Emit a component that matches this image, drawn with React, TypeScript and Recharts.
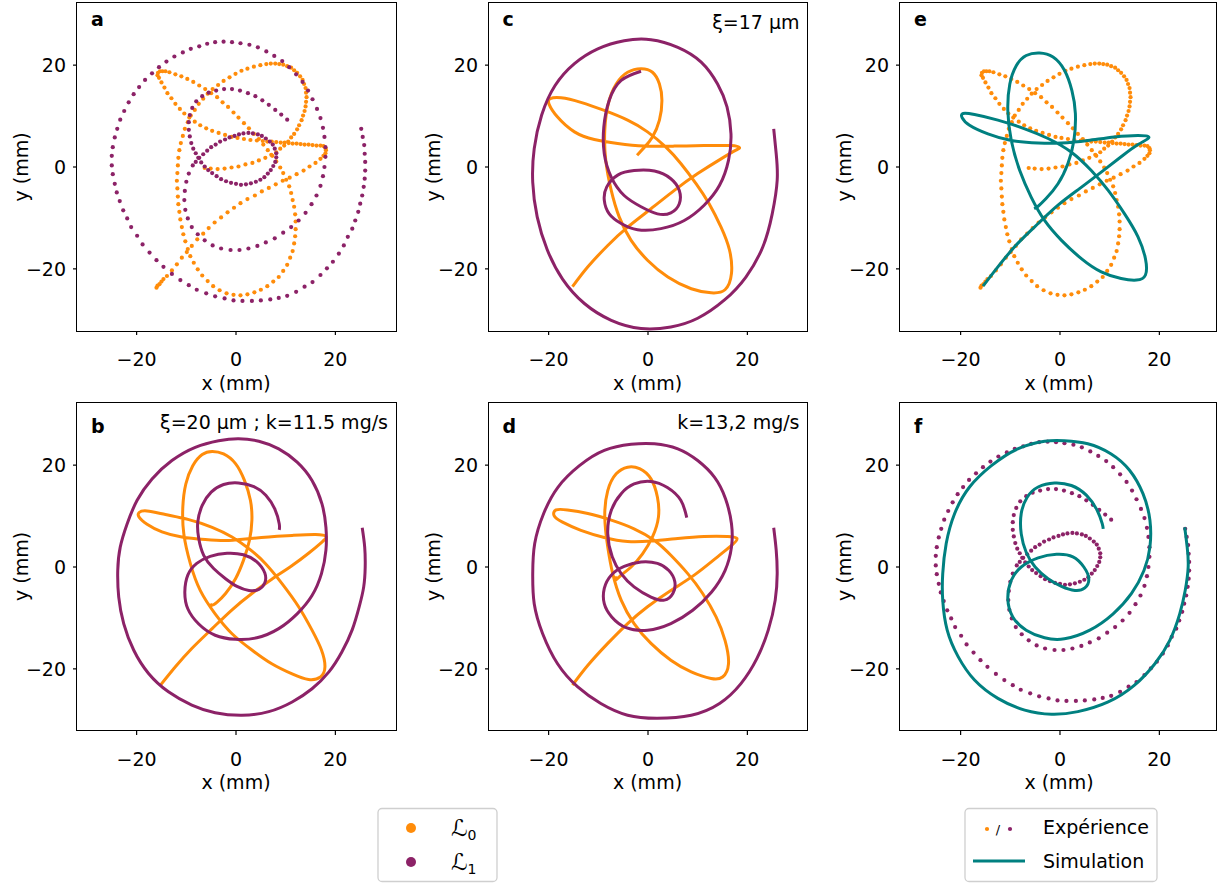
import React from 'react';
import { ScatterChart, Scatter, XAxis, YAxis } from 'recharts';

const FONT = '"DejaVu Sans", "Liberation Sans", sans-serif';
const ORANGE = '#ff8c0a';
const PURPLE = '#8c2267';
const TEAL = '#008080';

// experimental trajectories (dots), shared by a/e and a/f
const orangeExp = [
  [-16.0, -23.7], [-15.8, -23.3], [-15.4, -23.0], [-15.0, -22.5], [-14.6, -22.0],
  [-13.9, -21.4], [-12.9, -20.3], [-11.9, -19.1], [-10.9, -17.8], [-9.9, -16.7], [-8.9, -15.5], [-7.8, -14.2],
  [-6.6, -13.1], [-5.5, -12.0], [-4.3, -10.9], [-3.0, -9.9], [-1.7, -8.9], [-0.4, -8.0], [0.9, -7.1], [2.3, -6.3],
  [3.8, -5.6], [5.2, -4.8], [6.6, -4.1], [8.0, -3.4], [9.4, -2.7], [10.8, -2.1], [12.2, -1.4], [13.6, -0.7],
  [14.8, 0.1], [16.0, 0.8], [17.0, 1.6], [17.6, 2.2], [18.0, 2.7], [18.1, 3.3], [18.0, 3.7], [17.6, 4.1], [17.0, 4.2],
  [16.2, 4.2], [15.4, 4.3], [14.6, 4.4], [13.8, 4.4], [13.0, 4.5], [12.2, 4.6], [11.4, 4.6], [10.6, 4.7], [9.8, 4.8],
  [9.0, 4.8], [8.1, 4.9], [7.2, 5.0], [6.3, 5.0], [5.4, 5.1], [4.2, 5.2], [2.9, 5.3], [1.6, 5.5], [0.3, 5.7],
  [-0.9, 5.9], [-2.2, 6.3], [-3.5, 6.7], [-4.8, 7.1], [-6.0, 7.6], [-7.2, 8.2], [-8.3, 8.9], [-9.4, 9.7],
  [-10.4, 10.5], [-11.3, 11.4], [-12.2, 12.4], [-13.0, 13.5], [-13.8, 14.5], [-14.4, 15.6], [-15.0, 16.6],
  [-15.5, 17.5], [-15.8, 18.0], [-15.7, 18.5], [-15.3, 18.8], [-14.8, 18.8], [-14.2, 18.8],
  [-13.4, 18.6], [-12.2, 18.2], [-11.0, 17.8], [-9.8, 17.3], [-8.6, 16.7], [-7.4, 16.0], [-6.2, 15.3], [-5.0, 14.5],
  [-3.8, 13.7], [-2.7, 12.7], [-1.6, 11.8], [-0.5, 10.7], [0.5, 9.7], [1.6, 8.6], [2.6, 7.6], [3.6, 6.5], [4.6, 5.5],
  [5.5, 4.4], [6.4, 3.3], [7.3, 2.2], [8.1, 1.1], [8.9, -0.1], [9.5, -1.2], [10.1, -2.5], [10.7, -3.8], [11.1, -5.1],
  [11.4, -6.5], [11.7, -7.8], [11.9, -9.3], [12.0, -10.7], [12.0, -12.2], [11.9, -13.6], [11.7, -15.0], [11.4, -16.5],
  [10.9, -17.8], [10.3, -19.2], [9.5, -20.4], [8.6, -21.6], [7.5, -22.5], [6.3, -23.4], [5.0, -24.1], [3.7, -24.6],
  [2.3, -25.0], [0.9, -25.2], [-0.5, -25.1], [-1.9, -24.8], [-3.3, -24.2], [-4.6, -23.4], [-5.7, -22.4], [-6.8, -21.3],
  [-7.7, -20.1], [-8.5, -18.8], [-9.2, -17.5], [-9.7, -16.1], [-10.2, -14.6], [-10.6, -13.2], [-10.9, -11.8],
  [-11.2, -10.3], [-11.4, -8.8], [-11.6, -7.3], [-11.7, -5.8], [-11.8, -4.2], [-11.9, -2.7], [-11.8, -1.2],
  [-11.7, 0.3], [-11.6, 1.8], [-11.4, 3.3], [-11.1, 4.7], [-10.7, 6.1], [-10.3, 7.5], [-9.7, 8.8], [-9.1, 10.1],
  [-8.3, 11.2], [-7.5, 12.4], [-6.6, 13.4], [-5.7, 14.4], [-4.7, 15.3], [-3.6, 16.1], [-2.5, 16.9], [-1.3, 17.6],
  [-0.1, 18.3], [1.1, 18.9], [2.3, 19.3], [3.6, 19.7], [4.9, 20.0], [6.1, 20.2],
  [7.0, 20.3], [7.9, 20.3], [8.7, 20.2], [9.5, 20.1], [10.3, 19.8], [11.1, 19.5], [11.7, 19.0], [12.3, 18.5],
  [12.9, 17.8], [13.4, 17.1], [13.7, 16.3], [14.0, 15.5], [14.1, 14.6], [14.2, 13.7], [14.1, 12.8], [14.0, 11.9],
  [13.8, 11.0], [13.5, 10.1], [13.2, 9.2], [12.7, 8.2], [12.3, 7.4], [11.7, 6.5], [11.1, 5.8], [10.5, 5.0],
  [9.7, 4.2], [8.9, 3.6], [8.1, 2.9], [7.1, 2.4],
  [5.9, 1.8], [4.6, 1.3], [3.3, 0.8], [1.9, 0.5], [0.5, 0.1], [-0.9, -0.1], [-2.3, -0.3], [-3.7, -0.4],
  [-5.1, -0.3], [-6.3, -0.2],
];

const purpleExp = [
  [25.2, 7.5], [25.5, 5.9], [25.8, 4.3], [25.9, 2.6], [26.0, 1.0], [26.0, -0.7], [25.9, -2.3], [25.7, -3.9],
  [25.4, -5.6], [25.0, -7.2], [24.6, -8.8], [24.0, -10.5], [23.4, -12.1], [22.5, -13.7], [21.7, -15.4],
  [20.7, -17.0], [19.5, -18.6], [18.3, -19.9], [17.0, -21.2], [15.4, -22.6], [13.8, -23.5], [12.1, -24.5],
  [10.3, -25.3], [8.6, -25.7], [6.9, -26.0], [5.0, -26.2], [3.2, -26.3], [1.3, -26.3], [-0.5, -26.2],
  [-2.3, -25.8], [-4.2, -25.4], [-6.0, -24.8], [-7.9, -24.1], [-9.5, -23.2], [-11.2, -22.2], [-12.9, -21.0],
  [-14.6, -19.6], [-16.0, -18.3], [-17.4, -16.8], [-18.8, -15.2], [-19.9, -13.5], [-21.1, -11.8], [-21.9, -10.1],
  [-22.7, -8.5], [-23.4, -6.7], [-24.0, -5.0], [-24.4, -3.3], [-24.8, -1.4], [-25.0, 0.3], [-25.0, 2.2],
  [-24.8, 3.9], [-24.4, 5.8], [-23.9, 7.5], [-23.3, 9.3], [-22.5, 11.0], [-21.6, 12.7], [-20.6, 14.3],
  [-19.5, 15.7], [-18.3, 17.1], [-16.9, 18.4], [-15.5, 19.6], [-14.0, 20.7], [-12.4, 21.7], [-10.7, 22.5],
  [-9.1, 23.2], [-7.4, 23.7], [-5.8, 24.2], [-4.2, 24.5], [-2.5, 24.6], [-0.8, 24.5], [0.9, 24.3], [2.7, 24.0],
  [4.4, 23.5], [6.1, 22.7], [7.7, 21.8], [9.3, 20.8], [10.7, 19.6], [12.1, 18.2], [13.4, 16.7], [14.5, 15.0],
  [15.4, 13.3], [16.3, 11.4], [17.0, 9.6], [17.5, 7.7], [17.8, 5.9], [18.0, 3.9], [18.0, 2.0], [17.8, 0],
  [17.5, -1.8], [17.0, -3.7], [16.2, -5.6], [15.2, -7.3], [14.0, -9.0], [12.6, -10.5], [11.1, -11.8], [9.5, -12.9],
  [7.8, -14.0], [6.0, -14.8], [4.3, -15.5], [2.5, -16.0], [0.7, -16.3], [-1.1, -16.3], [-3.0, -16.0], [-4.7, -15.4],
  [-6.3, -14.4], [-7.7, -13.2], [-8.9, -11.8], [-9.7, -10.1], [-10.2, -8.4], [-10.4, -6.5], [-10.3, -4.7],
  [-10.0, -2.9], [-9.5, -1.3],
  [-8.7, 0.3], [-8.1, 1.0], [-7.4, 1.8], [-6.6, 2.5], [-5.8, 3.2], [-5.0, 3.9], [-4.1, 4.4], [-3.2, 5.0],
  [-2.2, 5.4], [-1.3, 5.8], [-0.3, 6.1], [0.6, 6.4], [1.5, 6.6], [2.5, 6.7], [3.4, 6.6], [4.4, 6.4], [5.2, 6.1],
  [6.0, 5.6], [6.8, 5.0], [7.4, 4.4], [7.8, 3.6], [8.1, 2.7], [8.1, 1.9], [7.9, 1.0], [7.5, 0.2], [7.0, -0.6],
  [6.4, -1.3], [5.7, -2.0], [4.9, -2.5], [4.0, -2.9], [3.0, -3.2], [2.0, -3.4], [1.0, -3.5], [0, -3.3],
  [-1.0, -3.1], [-2.0, -2.8], [-3.0, -2.4], [-3.9, -1.8], [-4.8, -1.2], [-5.6, -0.6], [-6.3, 0.1], [-7.0, 0.9],
  [-7.6, 1.8], [-8.1, 2.7], [-8.6, 3.6],
  [-9.0, 4.7], [-9.3, 6.0], [-9.5, 7.3], [-9.5, 8.8], [-9.3, 10.2], [-8.8, 11.6], [-8.0, 12.9], [-6.8, 13.9],
  [-5.5, 14.6], [-4.0, 15.0], [-2.4, 15.3], [-0.8, 15.3], [0.8, 15.0], [2.4, 14.5], [3.9, 13.9], [5.3, 13.1],
  [6.6, 12.2], [7.9, 11.2], [9.1, 10.3], [10.3, 9.3],
];

// simulated trajectories (lines)
const bOrange = [
  [-15.2, -23.2], [-12.2, -19.6], [-8.9, -16.0], [-4.8, -12.1], [-0.8, -8.4], [3.2, -5.2], [7.2, -2.4], [11.3, 0.3],
  [14.6, 2.7], [17.3, 4.9], [18.1, 6.0], [16.0, 6.4], [11.3, 6.2], [6.6, 5.9], [1.9, 5.5], [-2.1, 5.2], [-6.2, 5.4],
  [-10.9, 5.9], [-14.9, 6.9], [-17.9, 8.4], [-19.5, 9.8], [-19.5, 10.7], [-17.9, 11.0], [-14.2, 10.3], [-9.5, 9.3],
  [-4.8, 7.8], [-0.8, 5.9], [2.6, 3.6], [5.9, 0.7], [9.3, -3.3], [12.6, -7.8], [15.3, -12.4], [17.2, -16.3],
  [17.9, -19.6], [17.0, -21.6], [14.6, -22.1], [11.3, -21.0], [7.2, -19.0], [3.2, -16.3], [-0.8, -13.1],
  [-4.2, -9.2], [-7.2, -4.6], [-9.2, 0.7], [-10.5, 6.5], [-10.7, 11.8], [-10.1, 16.3], [-8.7, 19.9], [-6.8, 22.1],
  [-4.8, 22.7], [-2.5, 22.2], [-0.1, 20.3], [1.7, 17.0], [2.9, 13.1], [3.2, 9.2], [2.7, 5.2], [1.5, 1.3],
  [-0.1, -2.3], [-2.1, -5.2], [-3.8, -6.9], [-4.8, -7.5], [-5.2, -7.2],
];

const bPurple = [
  [25.4, 7.7], [25.9, 3.9], [26.0, 0], [25.7, -3.9], [24.8, -7.8], [23.4, -12.3], [21.3, -16.7], [18.7, -20.6],
  [15.3, -23.9], [11.3, -26.5], [6.6, -28.4], [1.2, -29.1], [-4.2, -28.6], [-8.9, -27.1], [-13.6, -24.5],
  [-17.6, -20.9], [-20.6, -16.3], [-22.6, -11.1], [-23.6, -5.9], [-23.8, -0.7], [-23.3, 3.9], [-21.9, 8.5],
  [-19.9, 13.1], [-16.9, 17.3], [-12.9, 20.9], [-8.2, 23.5], [-3.5, 24.8], [0.5, 25.2], [4.6, 24.7], [8.6, 23.2],
  [12.3, 20.6], [15.3, 17.0], [17.3, 12.4], [18.1, 7.8], [18.1, 3.3], [17.2, -1.3], [15.3, -5.6], [12.3, -9.2],
  [8.6, -12.1], [4.2, -13.9], [-0.1, -14.2], [-4.2, -13.4], [-7.5, -11.2], [-9.7, -8.2], [-10.3, -4.9],
  [-9.7, -1.6], [-7.9, 0.7], [-5.2, 2.1], [-1.8, 2.7], [1.5, 2.4], [4.2, 1.0], [5.8, -1.2], [5.8, -3.1],
  [4.6, -4.4], [2.6, -4.6], [0.2, -3.8], [-2.1, -2.3], [-4.5, -0.3], [-6.5, 2.3], [-7.5, 5.6], [-7.7, 8.8],
  [-6.8, 12.1], [-5.0, 14.7], [-2.5, 16.2], [0.5, 16.5], [3.6, 15.8], [6.0, 14.1], [7.8, 11.4], [8.7, 8.5], [8.7, 7.3],
];

const cOrange = [
  [-15.2, -23.5], [-12.1, -19.6], [-8.1, -15.4], [-4.1, -11.8], [0.6, -8.2], [5.3, -4.6], [10.0, -1.3], [14.7, 1.6],
  [17.7, 3.3], [18.4, 3.8], [16.7, 4.2], [11.3, 4.2], [5.3, 4.1], [-0.7, 4.1], [-6.1, 4.6], [-10.8, 5.4],
  [-14.8, 6.9], [-18.2, 9.8], [-19.9, 12.3], [-19.7, 13.4], [-17.5, 13.6], [-13.5, 12.7], [-8.8, 11.1], [-4.1, 9.2],
  [-0.1, 6.9], [3.6, 3.9], [6.6, 0.7], [9.7, -3.3], [12.3, -7.2], [14.7, -11.8], [16.4, -16.3], [16.8, -20.9],
  [15.5, -24.1], [12.7, -24.7], [8.7, -23.9], [4.0, -21.6], [-0.1, -18.3], [-3.4, -14.4], [-5.8, -9.8],
  [-7.4, -4.6], [-8.5, 1.3], [-8.7, 7.2], [-8.0, 12.4], [-6.4, 16.3], [-4.1, 18.6], [-1.4, 19.3], [0.9, 18.6],
  [2.3, 16.3], [2.8, 13.1], [2.3, 9.2], [0.9, 5.9], [-0.7, 3.9], [-2.2, 2.3],
];

const cPurple = [
  [-1.4, 18.8], [-5.4, 17.0], [-7.8, 13.1], [-8.9, 7.8], [-8.8, 2.6], [-7.4, -2.0], [-4.8, -5.6], [-1.4, -7.8],
  [1.9, -9.2], [4.6, -9.0], [6.3, -7.2], [6.3, -4.6], [4.6, -2.3], [1.3, -0.8], [-2.8, -0.7], [-6.1, -1.6],
  [-8.3, -3.9], [-8.8, -6.5], [-7.8, -9.2], [-5.4, -11.1], [-2.1, -12.3], [2.6, -12.1], [7.3, -10.5], [11.3, -7.5],
  [14.4, -3.6], [16.2, 1.3], [16.7, 6.5], [15.9, 11.8], [14.0, 16.3], [10.7, 20.6], [6.0, 23.5], [0.6, 25.0],
  [-4.8, 24.8], [-10.1, 23.2], [-14.8, 20.3], [-18.7, 16.0], [-21.4, 10.2], [-22.9, 3.6], [-23.2, -3.0],
  [-22.3, -9.8], [-20.3, -16.2], [-17.2, -22.0], [-12.8, -26.8], [-7.4, -30.1], [-1.4, -31.7], [4.6, -31.4],
  [10.0, -29.7], [15.4, -26.1], [19.7, -21.6], [23.1, -15.7], [25.0, -9.2], [26.0, -2.6], [25.8, 2.6], [25.3, 7.5],
];

const dOrange = [
  [-15.2, -23.2], [-12.1, -19.3], [-8.1, -15.0], [-4.1, -11.1], [-0.1, -7.8], [4.6, -4.6], [9.3, -1.6], [14.0, 2.0],
  [17.0, 4.4], [17.9, 5.6], [16.0, 6.0], [11.3, 6.0], [6.0, 5.6], [0.6, 5.1], [-4.1, 5.0], [-8.8, 5.8],
  [-13.5, 7.2], [-17.2, 8.8], [-18.9, 10.1], [-18.5, 11.2], [-16.2, 11.2], [-12.1, 10.5], [-7.4, 9.2], [-2.8, 7.5],
  [1.3, 5.2], [4.6, 2.3], [8.0, -1.3], [11.0, -5.2], [13.7, -9.8], [15.5, -14.4], [16.2, -19.0], [15.0, -21.6],
  [12.7, -21.9], [8.7, -20.6], [4.6, -18.3], [0.6, -15.0], [-2.8, -11.1], [-5.4, -6.5], [-7.1, -1.3], [-8.1, 3.9],
  [-8.7, 9.8], [-8.1, 15.0], [-6.4, 18.3], [-4.1, 19.6], [-1.7, 19.3], [0.6, 17.3], [1.9, 13.7], [2.1, 9.8],
  [0.9, 5.9], [-1.1, 2.6], [-3.4, 0.0], [-5.4, -1.6], [-6.4, -2.5], [-6.4, -1.8],
];

const dPurple = [
  [25.3, 7.7], [25.8, 3.3], [26.0, -1.3], [25.6, -6.5], [24.2, -12.4], [21.9, -18.0], [18.7, -22.9], [14.4, -26.8],
  [8.7, -29.1], [1.9, -29.7], [-4.1, -29.1], [-9.5, -26.8], [-14.2, -23.5], [-18.2, -19.0], [-21.2, -13.1],
  [-22.9, -7.2], [-23.2, -1.3], [-22.8, 4.6], [-21.0, 10.5], [-18.1, 15.7], [-13.8, 19.9], [-8.8, 22.9],
  [-3.4, 24.1], [1.3, 24.2], [6.0, 23.2], [10.0, 20.9], [13.4, 17.6], [15.6, 13.4], [16.8, 8.5], [16.8, 3.9],
  [15.5, -0.7], [12.8, -4.9], [9.0, -8.5], [4.6, -11.1], [-0.1, -12.4], [-4.4, -11.9], [-7.3, -9.8], [-8.8, -7.2],
  [-8.8, -4.2], [-7.4, -1.6], [-4.8, 0.1], [-1.4, 1.0], [1.9, 0.7], [4.2, -0.7], [5.4, -2.9], [5.0, -5.2],
  [3.3, -6.5], [0.6, -5.9], [-2.8, -3.9], [-5.4, -1.3], [-7.2, 2.0], [-8.1, 6.5], [-7.4, 11.1], [-5.4, 14.4],
  [-2.8, 16.3], [0.6, 16.8], [3.9, 15.6], [6.6, 13.1], [7.8, 9.7],
];

const eTeal = [
  [-15.5, -23.4], [-12.5, -19.6], [-8.5, -15.0], [-4.4, -11.1], [-0.4, -7.5], [4.0, -4.2], [8.3, -1.0], [12.3, 2.0],
  [15.7, 4.4], [17.9, 5.8], [15.7, 6.2], [11.0, 5.9], [5.6, 5.2], [0.3, 4.7], [-4.4, 4.7], [-9.8, 5.2],
  [-14.5, 6.5], [-18.2, 8.2], [-19.7, 9.7], [-19.5, 10.5], [-17.2, 10.3], [-12.5, 9.2], [-7.1, 7.5], [-2.4, 5.6],
  [2.3, 2.9], [6.3, -0.7], [9.7, -4.6], [13.0, -9.2], [15.7, -13.7], [17.2, -18.0], [17.2, -21.2], [15.4, -22.2],
  [12.3, -21.9], [8.3, -20.6], [4.3, -18.0], [0.3, -14.4], [-3.1, -10.5], [-5.8, -5.9], [-8.1, -0.7], [-9.8, 5.2],
  [-10.5, 11.1], [-10.1, 16.3], [-8.8, 19.9], [-6.8, 21.9], [-4.1, 22.4], [-1.4, 21.6], [0.9, 19.0], [2.4, 15.0],
  [3.1, 10.5], [2.8, 5.2], [1.6, 0.7], [-0.4, -3.3], [-2.8, -6.2], [-4.4, -7.7], [-5.2, -8.2],
];

const fTeal = [
  [25.1, 7.8], [25.6, 3.9], [25.8, 0], [25.2, -4.6], [24.1, -9.2], [22.1, -14.4], [19.1, -19.0], [15.0, -23.2],
  [9.7, -26.5], [3.6, -28.4], [-1.7, -28.9], [-7.1, -28.1], [-12.5, -25.8], [-17.2, -22.2], [-20.5, -17.6],
  [-22.7, -12.4], [-23.6, -6.5], [-23.6, -1.3], [-22.9, 4.6], [-21.2, 10.5], [-18.2, 15.7], [-13.8, 19.9],
  [-8.5, 23.2], [-3.1, 24.7], [0.9, 24.8], [5.6, 24.2], [10.3, 22.2], [14.0, 19.0], [16.7, 14.4], [18.1, 9.2],
  [18.1, 3.9], [16.9, -0.7], [14.4, -5.2], [10.7, -9.2], [6.0, -12.4], [0.9, -14.1], [-3.1, -13.9], [-6.8, -12.4],
  [-9.5, -9.8], [-10.5, -6.2], [-9.8, -2.6], [-7.8, 0], [-4.4, 1.8], [-0.7, 2.5], [2.6, 2.0], [4.8, 0],
  [5.8, -2.3], [5.0, -4.1], [3.0, -4.6], [0.3, -3.8], [-2.4, -2.3], [-5.0, 0], [-6.8, 2.9], [-7.8, 6.5],
  [-7.8, 10.5], [-6.6, 13.7], [-4.4, 15.7], [-1.1, 16.5], [2.3, 16.0], [5.3, 14.1], [7.5, 11.1], [8.5, 8.5], [8.7, 7.5],
];

const X_TICKS = [-20, 0, 20];
const Y_TICKS = [-20, 0, 20];
const Y_DOMAIN = [-32.2, 32.2];
const PLOT_H = 328;
const AXIS_W = 77;
const AXIS_H = 57;

const toPts = (arr: number[][]) => arr.map(([x, y]) => ({ x, y }));
const fmt = (v: number) => (v < 0 ? `\u2212${Math.abs(v)}` : `${v}`);

type Series = { data: number[][]; color: string; kind: 'dots' | 'line' };
type PanelDef = {
  letter: string;
  left: number;
  top: number;
  width: number;
  xDomain: number[];
  note?: string;
  series: Series[];
};

const PANELS: PanelDef[] = [
  {
    letter: 'a', left: 77, top: 3, width: 319, xDomain: [-32, 32.2],
    series: [
      { data: orangeExp, color: ORANGE, kind: 'dots' },
      { data: purpleExp, color: PURPLE, kind: 'dots' },
    ],
  },
  {
    letter: 'c', left: 488.5, top: 3, width: 319, xDomain: [-32, 32.2], note: 'ξ=17 μm',
    series: [
      { data: cOrange, color: ORANGE, kind: 'line' },
      { data: cPurple, color: PURPLE, kind: 'line' },
    ],
  },
  {
    letter: 'e', left: 900, top: 3, width: 316, xDomain: [-32.2, 31.4],
    series: [
      { data: orangeExp, color: ORANGE, kind: 'dots' },
      { data: eTeal, color: TEAL, kind: 'line' },
    ],
  },
  {
    letter: 'b', left: 77, top: 402.5, width: 319, xDomain: [-32, 32.2], note: 'ξ=20 μm ; k=11.5 mg/s',
    series: [
      { data: bOrange, color: ORANGE, kind: 'line' },
      { data: bPurple, color: PURPLE, kind: 'line' },
    ],
  },
  {
    letter: 'd', left: 488.5, top: 402.5, width: 319, xDomain: [-32, 32.2], note: 'k=13,2 mg/s',
    series: [
      { data: dOrange, color: ORANGE, kind: 'line' },
      { data: dPurple, color: PURPLE, kind: 'line' },
    ],
  },
  {
    letter: 'f', left: 900, top: 402.5, width: 316, xDomain: [-32.2, 31.4],
    series: [
      { data: purpleExp, color: PURPLE, kind: 'dots' },
      { data: fTeal, color: TEAL, kind: 'line' },
    ],
  },
];

const noDot = () => <g />;

function Panel({ p }: { p: PanelDef }) {
  const W = AXIS_W + p.width + 2;
  const H = 3 + PLOT_H + AXIS_H;
  const tickStyle = { fill: '#000', fontSize: 19, fontFamily: FONT };
  return (
    <div style={{ position: 'absolute', left: p.left - AXIS_W, top: p.top - 3, width: W, height: H }}>
      <ScatterChart width={W} height={H} margin={{ top: 3, right: 2, bottom: 0, left: 0 }}>
        <XAxis
          type="number"
          dataKey="x"
          domain={p.xDomain}
          ticks={X_TICKS}
          interval={0}
          allowDataOverflow
          axisLine={false}
          tickLine={{ stroke: '#000', strokeWidth: 1.2 }}
          tickSize={4}
          tickMargin={18}
          tick={tickStyle}
          tickFormatter={fmt}
          height={AXIS_H}
        />
        <YAxis
          type="number"
          dataKey="y"
          domain={Y_DOMAIN}
          ticks={Y_TICKS}
          interval={0}
          allowDataOverflow
          axisLine={false}
          tickLine={{ stroke: '#000', strokeWidth: 1.2 }}
          tickSize={4}
          tickMargin={7}
          tick={tickStyle}
          tickFormatter={fmt}
          width={AXIS_W}
        />
        {p.series.map((s, i) =>
          s.kind === 'dots' ? (
            <Scatter
              key={i}
              data={toPts(s.data)}
              fill={s.color}
              isAnimationActive={false}
              shape={(props: any) => <circle cx={props.cx} cy={props.cy} r={2.1} fill={s.color} />}
            />
          ) : (
            <Scatter
              key={i}
              data={toPts(s.data)}
              fill={s.color}
              isAnimationActive={false}
              line={{ stroke: s.color, strokeWidth: 3, fill: 'none' }}
              lineJointType="natural"
              shape={noDot}
            />
          )
        )}
      </ScatterChart>
      <div
        style={{
          position: 'absolute',
          left: AXIS_W - 0.65,
          top: 3 - 0.65,
          width: p.width + 1.3,
          height: PLOT_H + 1.3,
          border: '1.3px solid #000',
          boxSizing: 'border-box',
          pointerEvents: 'none',
        }}
      />
    </div>
  );
}

export default function App() {
  return (
    <div
      style={{
        position: 'absolute',
        left: 0,
        top: 0,
        width: 1218,
        height: 883,
        overflow: 'hidden',
        background: '#fff',
        fontFamily: FONT,
      }}
    >
      {PANELS.map((p) => (
        <Panel key={p.letter} p={p} />
      ))}
      <svg
        width={1218}
        height={883}
        style={{ position: 'absolute', left: 0, top: 0, pointerEvents: 'none' }}
        fontFamily={FONT}
        fontSize={19}
      >
        {PANELS.map((p) => (
          <g key={p.letter}>
            <text x={p.left + 14} y={p.top + (p.top < 100 ? 23 : 30)} fontWeight="bold" fill="#000">
              {p.letter}
            </text>
            {p.note && (
              <text x={p.left + p.width - 8} y={p.top + 26} textAnchor="end" fill="#000">
                {p.note}
              </text>
            )}
            <text x={p.left + 159} y={p.top + PLOT_H + 58.5} textAnchor="middle" fill="#000">
              x (mm)
            </text>
            <text
              transform={`translate(${p.left - 49},${p.top + PLOT_H / 2}) rotate(-90)`}
              textAnchor="middle"
              fill="#000"
            >
              y (mm)
            </text>
          </g>
        ))}

        {/* legend: L0 / L1 */}
        <rect x={378} y={808.5} width={119} height={73} rx={4} fill="#fff" stroke="#cfcfcf" strokeWidth={1.3} />
        <circle cx={411} cy={828} r={5} fill={ORANGE} />
        <text x={451} y={836} fill="#000" fontSize={23}>
          ℒ<tspan fontSize={14} dy={4}>0</tspan>
        </text>
        <circle cx={411} cy={862} r={5} fill={PURPLE} />
        <text x={451} y={870} fill="#000" fontSize={23}>
          ℒ<tspan fontSize={14} dy={4}>1</tspan>
        </text>

        {/* legend: experience / simulation */}
        <rect x={965} y={808.5} width={192} height={73} rx={4} fill="#fff" stroke="#cfcfcf" strokeWidth={1.3} />
        <circle cx={987} cy={829} r={2.1} fill={ORANGE} />
        <text x={998} y={834} fontSize={13} textAnchor="middle" fill="#000">/</text>
        <circle cx={1010} cy={829} r={2.1} fill={PURPLE} />
        <text x={1043} y={834} fill="#000">Expérience</text>
        <line x1={973} y1={861} x2={1025} y2={861} stroke={TEAL} strokeWidth={3} />
        <text x={1043} y={868} fill="#000">Simulation</text>
      </svg>
    </div>
  );
}
